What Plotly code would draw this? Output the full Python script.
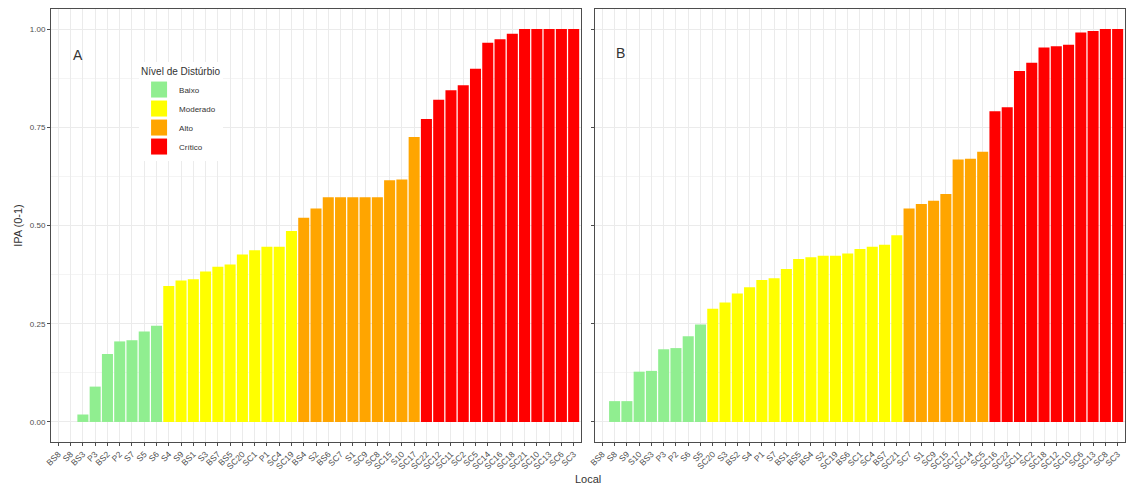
import plotly.graph_objects as go

# ---------------- data ----------------
levels = ["Baixo", "Moderado", "Alto", "Crítico"]
level_colors = ["#90EE90", "#FFFF00", "#FFA500", "#FF0000"]

# Panel A
a_sites = ["BS8", "S8", "BS3", "P3", "BS2", "P2", "S7", "S5", "S6",
           "S4", "S9", "BS1", "S3", "BS7", "BS5", "SC20", "SC1", "P1", "SC4", "SC19",
           "BS4", "S2", "BS6", "SC7", "S1", "SC9", "SC8", "SC15", "S10", "SC17",
           "SC22", "SC12", "SC11", "SC2", "SC5", "SC14", "SC16", "SC18", "SC21", "SC10", "SC13", "SC6", "SC3"]
a_values = [0.0, 0.0, 0.019, 0.09, 0.173, 0.205, 0.208, 0.23, 0.245,
            0.346, 0.36, 0.363, 0.383, 0.395, 0.401, 0.426, 0.437, 0.446, 0.446, 0.486,
            0.52, 0.543, 0.572, 0.572, 0.572, 0.572, 0.572, 0.615, 0.617, 0.725,
            0.771, 0.82, 0.844, 0.857, 0.899, 0.965, 0.974, 0.988, 1.0, 1.0, 1.0, 1.0, 1.0]
a_levels = ["Baixo"] * 9 + ["Moderado"] * 11 + ["Alto"] * 10 + ["Crítico"] * 13

# Panel B
b_sites = ["BS8", "S8", "S9", "S10", "BS3", "P3", "P2", "S6", "S5",
           "SC20", "S3", "BS2", "S4", "P1", "S7", "BS1", "BS5", "BS4", "S2", "SC19", "BS6",
           "SC1", "SC4", "BS7", "SC21",
           "SC7", "S1", "SC9", "SC15", "SC17", "SC14", "SC5",
           "SC16", "SC22", "SC11", "SC2", "SC18", "SC12", "SC10", "SC6", "SC13", "SC8", "SC3"]
b_values = [0.0, 0.053, 0.053, 0.128, 0.13, 0.185, 0.188, 0.218, 0.248,
            0.288, 0.304, 0.327, 0.343, 0.361, 0.366, 0.389, 0.415, 0.419, 0.423, 0.423, 0.429,
            0.44, 0.446, 0.451, 0.475,
            0.543, 0.555, 0.563, 0.58, 0.668, 0.67, 0.688,
            0.791, 0.801, 0.893, 0.914, 0.953, 0.956, 0.96, 0.991, 0.995, 1.0, 1.0]
b_levels = ["Baixo"] * 9 + ["Moderado"] * 16 + ["Alto"] * 7 + ["Crítico"] * 11

y_ticks = [0, 0.25, 0.5, 0.75, 1.0]
y_ticktext = ["0.00", "0.25", "0.50", "0.75", "1.00"]

# ---------------- figure ----------------
fig = go.Figure()

for lvl, col in zip(levels, level_colors):
    xa = [s for s, l in zip(a_sites, a_levels) if l == lvl]
    ya = [v for v, l in zip(a_values, a_levels) if l == lvl]
    fig.add_trace(go.Bar(x=xa, y=ya, name=lvl, marker=dict(color=col, line=dict(width=0)),
                         width=0.9, xaxis="x", yaxis="y", legendgroup=lvl, showlegend=False))
    xb = [s for s, l in zip(b_sites, b_levels) if l == lvl]
    yb = [v for v, l in zip(b_values, b_levels) if l == lvl]
    fig.add_trace(go.Bar(x=xb, y=yb, name=lvl, marker=dict(color=col, line=dict(width=0)),
                         width=0.9, xaxis="x2", yaxis="y2", legendgroup=lvl, showlegend=False))
    # legend key (square swatch like ggplot's fill legend)
    fig.add_trace(go.Scatter(x=[None], y=[None], mode="markers", name=lvl,
                             marker=dict(symbol="square", size=16, color=col, line=dict(width=0)),
                             xaxis="x", yaxis="y", legendgroup=lvl, showlegend=True,
                             hoverinfo="skip"))

grid_col = "#EBEBEB"
border_col = "#4D4D4D"
tick_font = dict(family="Liberation Sans, Arial, sans-serif", size=8.5, color="#4D4D4D")

common_x = dict(type="category", showgrid=True, gridcolor=grid_col, gridwidth=1,
                ticks="outside", ticklen=3, tickcolor=border_col, tickangle=-45,
                tickfont=tick_font, showline=True, linecolor=border_col, linewidth=1,
                mirror=True, zeroline=False)
common_y = dict(range=[-0.051, 1.051], tickvals=y_ticks, ticktext=y_ticktext,
                showgrid=True, gridcolor=grid_col, gridwidth=1,
                minor=dict(showgrid=True, gridcolor="#F4F4F4", tickvals=[0.125, 0.375, 0.625, 0.875], gridwidth=1),
                ticks="outside", ticklen=3, tickcolor=border_col,
                tickfont=dict(family="Liberation Sans, Arial, sans-serif", size=8, color="#4D4D4D"),
                showline=True, linecolor=border_col, linewidth=1, mirror=True, zeroline=False)

fig.update_layout(
    width=1130, height=492,
    margin=dict(l=51, r=5, t=9, b=50),
    paper_bgcolor="white", plot_bgcolor="white",
    barmode="overlay", bargap=0.1,
    font=dict(family="Liberation Sans, Arial, sans-serif", color="#333333"),
    xaxis=dict(domain=[0, 0.4935], anchor="y", range=[-0.6, len(a_sites) - 0.4],
               categoryorder="array", categoryarray=a_sites, **common_x),
    xaxis2=dict(domain=[0.5065, 1.0], anchor="y2", range=[-0.6, len(b_sites) - 0.4],
                categoryorder="array", categoryarray=b_sites, **common_x),
    yaxis=dict(anchor="x", title=dict(text="IPA (0-1)", font=dict(size=11, color="#333333"), standoff=4),
               **common_y),
    yaxis2=dict(anchor="x2", showticklabels=False, **common_y),
    legend=dict(x=0.082, y=0.8775, xanchor="left", yanchor="top",
                bgcolor="white", borderwidth=0, itemsizing="trace",
                title=dict(text="Nível de Distúrbio", font=dict(size=10, color="#333333")),
                font=dict(size=8, color="#333333"), tracegroupgap=0,
                itemwidth=30),
    annotations=[
        dict(text="A", x=1.6, y=0.935, xref="x", yref="y", showarrow=False,
             font=dict(size=14, color="#333333")),
        dict(text="B", x=1.49, y=0.94, xref="x2", yref="y2", showarrow=False,
             font=dict(size=14, color="#333333")),
        dict(text="Local", x=0.5, y=-0.086, xref="paper", yref="paper", yanchor="middle",
             showarrow=False, font=dict(size=11, color="#333333")),
    ],
)

fig.write_html("out.html")
